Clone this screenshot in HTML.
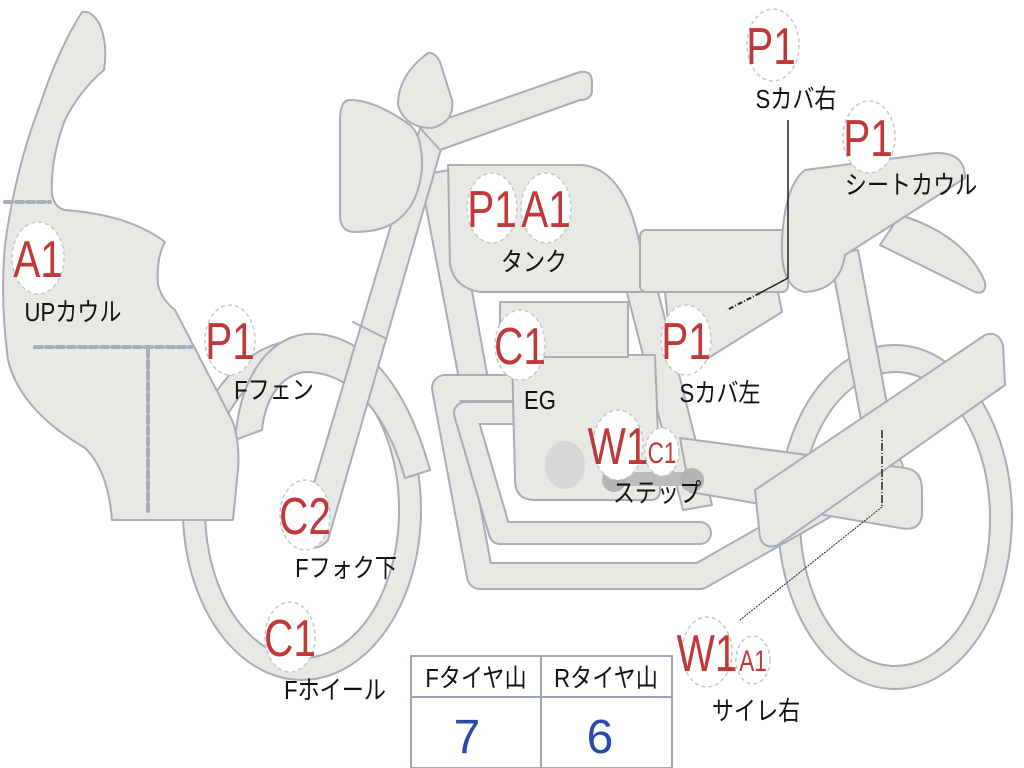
<!DOCTYPE html>
<html><head><meta charset="utf-8"><style>
html,body{margin:0;padding:0;background:#fff;}
svg{display:block;}
.s{fill:#e8e8e4;stroke:#a9adb8;stroke-width:2;stroke-linejoin:round;}
.bo{fill:none;stroke:#a9adb8;stroke-linecap:round;stroke-linejoin:round;}
.bi{fill:none;stroke:#e8e8e4;stroke-linecap:round;stroke-linejoin:round;}
.c{fill:#fff;stroke:#c8c8c8;stroke-width:1.5;stroke-dasharray:4 3;}
.r{fill:#c0383a;font-family:"Liberation Sans",sans-serif;}
.k{fill:#111;font-family:"Liberation Sans","Noto Sans CJK JP",sans-serif;font-size:26px;}
</style></head><body>
<svg width="1024" height="768" viewBox="0 0 1024 768" xmlns="http://www.w3.org/2000/svg">
<path class="s" fill-rule="evenodd" d="M895,345 A117,172 0 1 1 894.9,345 Z M895,372 A95,147 0 1 0 895.1,372 Z"/>
<path class="s" fill-rule="evenodd" d="M302,340 A119,170 0 1 1 301.9,340 Z M302,362 A97,148 0 1 0 302.1,362 Z"/>
<path class="s" d="M235,440 C240,380 265,340 305,334 C360,330 405,380 430,470 L405,478 C385,410 350,372 305,372 C280,375 265,400 262,430 Z"/>
<path class="s" d="M420,175 L450,170 L490,390 L462,395 Z"/>
<path class="s" d="M625,285 L655,280 L712,505 L683,510 Z"/>
<path class="s" d="M830,255 L858,250 L890,420 L862,425 Z"/>
<path class="bo" stroke-width="28" d="M515,388 L445,388 L480,576 L700,576 L890,468"/>
<path class="bi" stroke-width="24" d="M515,388 L445,388 L480,576 L700,576 L890,468"/>
<path class="bo" stroke-width="24" d="M515,413 L465,413 L500,533 L700,533"/>
<path class="bi" stroke-width="20" d="M515,413 L465,413 L500,533 L700,533"/>
<path class="s" d="M512,355 L655,355 L660,490 Q660,500 650,500 L535,500 Q515,500 515,480 Z"/>
<rect class="s" x="500" y="302" width="128" height="55"/>
<ellipse cx="565" cy="465" rx="20" ry="24" fill="#d8d8d8"/>
<path class="s" d="M680,438 L905,468 Q922,470 922,490 L922,515 Q920,532 900,528 L690,492 Z"/>
<rect x="612" y="472" width="80" height="14" rx="7" fill="#bcbcbc"/>
<circle cx="614" cy="480" r="12" fill="#b4b4b4"/><circle cx="692" cy="480" r="12" fill="#b4b4b4"/>
<path class="s" d="M755,490 L985,335 Q998,330 1003,345 L1005,385 L778,545 Q765,550 760,538 Z"/>
<path class="s" d="M420,128 L450,118 L328,540 Q318,552 305,545 L300,530 Z"/>
<path class="bo" stroke-width="2" d="M353,322 L385,338"/>
<path class="s" d="M420,128 L580,72 Q592,70 592,82 L592,92 Q590,100 580,100 L440,150 Z"/>
<path class="s" d="M350,100 Q375,100 410,125 Q422,135 422,165 Q420,205 395,222 Q380,232 355,232 Q340,232 340,215 L340,120 Q340,100 350,100 Z"/>
<path class="s" d="M428,53 Q435,52 440,62 L452,100 Q455,122 432,128 Q405,128 398,105 Q398,75 428,53 Z"/>
<path class="s" d="M82,12 Q92,10 100,25 Q108,45 104,70 Q80,90 65,120 Q50,160 52,195 Q55,208 65,210 Q130,215 165,242 Q156,258 158,285 Q162,300 175,310 L232,420 Q240,440 238,470 L233,520 L112,520 Q108,470 85,448 Q20,410 8,360 Q0,300 5,245 Q15,170 40,105 Q58,50 82,12 Z"/>
<g class="bo" stroke-width="4" stroke-dasharray="7 4" stroke-linecap="butt">
<path d="M5,202 L50,202"/><path d="M35,347 L192,347"/><path d="M148,350 L148,515"/></g>
<path class="s" d="M448,165 L582,165 Q615,168 632,215 Q645,255 645,292 L480,292 Q455,288 450,265 Z"/>
<rect class="s" x="640" y="230" width="148" height="62" rx="6"/>
<path class="s" d="M665,292 L778,292 L782,312 L705,360 L672,362 Z"/>
<path class="s" d="M900,215 Q965,235 985,282 Q987,295 975,292 Q935,272 880,245 Z"/>
<path class="s" d="M805,170 L935,153 Q965,152 965,178 L845,255 Q840,290 805,292 Q780,288 782,240 Q785,185 805,170 Z"/>
<path d="M788,120 L788,278 L760,293" stroke="#222" stroke-width="1.5" fill="none"/>
<path d="M760,293 L727,310" stroke="#222" stroke-width="2" stroke-dasharray="5 2 1 2" fill="none"/>
<path d="M882,430 L882,507" stroke="#222" stroke-width="1.5" stroke-dasharray="8 2 1 2" fill="none"/>
<path d="M882,507 L740,620" stroke="#222" stroke-width="1" stroke-dasharray="2 1" fill="none"/>
<rect x="411" y="656" width="261" height="112" fill="#fff" stroke="#9ea4b4" stroke-width="2"/>
<line x1="411" y1="697" x2="672" y2="697" stroke="#9ea4b4" stroke-width="2"/>
<line x1="541" y1="656" x2="541" y2="768" stroke="#9ea4b4" stroke-width="2"/>
<text class="k" x="476" y="687" text-anchor="middle" transform="translate(476 0) scale(0.85 1) translate(-476 0)">Fタイヤ山</text>
<text class="k" x="606" y="687" text-anchor="middle" transform="translate(606 0) scale(0.85 1) translate(-606 0)">Rタイヤ山</text>
<text x="467" y="753" fill="#2a4aa8" font-family="Liberation Sans,sans-serif" font-size="48" text-anchor="middle">7</text>
<text x="600" y="753" fill="#2a4aa8" font-family="Liberation Sans,sans-serif" font-size="48" text-anchor="middle">6</text>
<g>
<ellipse class="c" cx="773" cy="45" rx="26" ry="36"/>
<ellipse class="c" cx="869" cy="137" rx="26" ry="36"/>
<ellipse class="c" cx="492" cy="208" rx="25" ry="35"/>
<ellipse class="c" cx="546" cy="208" rx="25" ry="35"/>
<ellipse class="c" cx="38" cy="258" rx="26" ry="36"/>
<ellipse class="c" cx="230" cy="340" rx="25" ry="35"/>
<ellipse class="c" cx="520" cy="345" rx="25" ry="35"/>
<ellipse class="c" cx="686" cy="340" rx="25" ry="35"/>
<ellipse class="c" cx="618" cy="445" rx="25" ry="35"/>
<ellipse class="c" cx="662" cy="452" rx="17" ry="24"/>
<ellipse class="c" cx="305" cy="515" rx="25" ry="35"/>
<ellipse class="c" cx="290" cy="637" rx="25" ry="35"/>
<ellipse class="c" cx="707" cy="652" rx="25" ry="35"/>
<ellipse class="c" cx="753" cy="660" rx="17" ry="24"/>
</g>
<g class="r" font-size="52" text-anchor="middle">
<text transform="translate(771 64) scale(0.78 1)">P1</text>
<text transform="translate(868 156) scale(0.78 1)">P1</text>
<text transform="translate(492 227) scale(0.78 1)">P1</text>
<text transform="translate(546 227) scale(0.78 1)">A1</text>
<text transform="translate(38 277) scale(0.78 1)">A1</text>
<text transform="translate(230 359) scale(0.78 1)">P1</text>
<text transform="translate(520 364) scale(0.78 1)">C1</text>
<text transform="translate(686 359) scale(0.78 1)">P1</text>
<text transform="translate(618 464) scale(0.78 1)">W1</text>
<text transform="translate(305 534) scale(0.78 1)">C2</text>
<text transform="translate(290 656) scale(0.78 1)">C1</text>
<text transform="translate(707 671) scale(0.78 1)">W1</text>
</g>
<g class="r" font-size="30" text-anchor="middle">
<text transform="translate(662 463) scale(0.75 1)">C1</text>
<text transform="translate(753 671) scale(0.75 1)">A1</text>
</g>
<g class="k" text-anchor="middle">
<text transform="translate(796 108) scale(0.85 1)">Sカバ右</text>
<text transform="translate(911 194) scale(0.85 1)">シートカウル</text>
<text transform="translate(534 271) scale(0.85 1)">タンク</text>
<text transform="translate(73 321) scale(0.85 1)">UPカウル</text>
<text transform="translate(274 399) scale(0.85 1)">Fフェン</text>
<text transform="translate(540 409) scale(0.85 1)">EG</text>
<text transform="translate(720 402) scale(0.85 1)">Sカバ左</text>
<text transform="translate(657 502) scale(0.85 1)">ステップ</text>
<text transform="translate(346 577) scale(0.85 1)">Fフォク下</text>
<text transform="translate(335 699) scale(0.85 1)">Fホイール</text>
<text transform="translate(756 720) scale(0.85 1)">サイレ右</text>
</g>
</svg>
</body></html>
